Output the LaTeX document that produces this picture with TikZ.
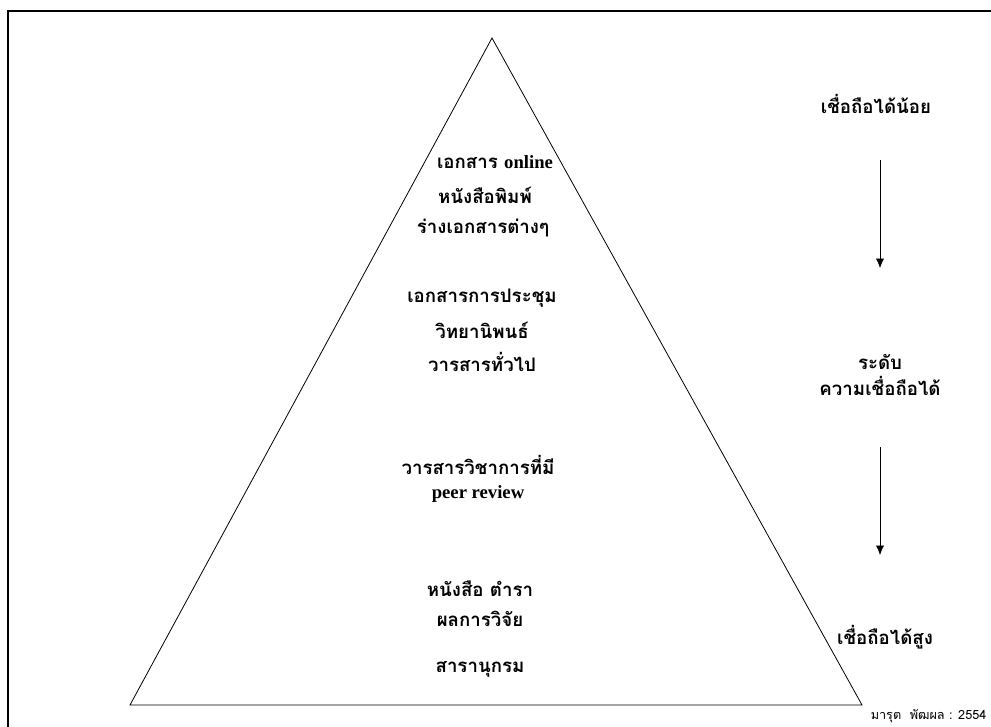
\documentclass[tikz,border=0pt]{standalone}
\usepackage{fontspec}
\newfontfamily\thaifont[Script=Thai]{Loma}
\newfontfamily\latinfont{Liberation Serif}
\usetikzlibrary{arrows.meta}

\tikzset{tt/.style={font=\thaifont\bfseries\fontsize{14}{16}\selectfont, inner sep=1pt},
         small/.style={font=\thaifont\fontsize{9.5}{11}\selectfont, inner sep=1pt}}

\begin{document}
\begin{tikzpicture}[x=0.75pt, y=-0.75pt]
    \useasboundingbox (0,0) rectangle (991,727);
    \draw[line width=1.2pt] (8,11) rectangle (1000,740);

    \coordinate (apex) at (492,38);
    \coordinate (bl) at (130,705);
    \coordinate (br) at (862,705);
    \draw[line width=0.6pt] (bl) -- (apex) -- (br) -- cycle;

    % top level
    \node[tt] (online) at (495,162) {เอกสาร {\latinfont online}};
    \node[tt] (paper) at (485,195) {หนังสือพิมพ์};
    \node[tt] (draft) at (483,228) {ร่างเอกสารต่างๆ};

    % second level
    \node[tt] (proc) at (482,298) {เอกสารการประชุม};
    \node[tt] (thesis) at (482,330) {วิทยานิพนธ์};
    \node[tt] (journal) at (482,362) {วารสารทั่วไป};

    % third level
    \node[tt] (acad) at (478,465) {วารสารวิชาการที่มี};
    \node[tt] (peer) at (478,494) {\latinfont peer review};

    % bottom level
    \node[tt] (book) at (480,589) {หนังสือ ตำรา};
    \node[tt] (research) at (480,619) {ผลการวิจัย};
    \node[tt] (encyc) at (480,669) {สารานุกรม};

    % right side
    \node[tt] (low) at (876,104) {เชื่อถือได้น้อย};
    \node[tt] (level) at (880,362) {ระดับ};
    \node[tt] (cred) at (880,386) {ความเชื่อถือได้};
    \node[tt] (high) at (885,637) {เชื่อถือได้สูง};
    \node[small, anchor=east] (author) at (988,716) {มารุต\ \ พัฒผล : 2554};

    \draw[-{Latex[length=7pt,width=6pt]}] (880,160) -- (880,268);
    \draw[-{Latex[length=7pt,width=6pt]}] (880,447) -- (880,555);
\end{tikzpicture}
\end{document}
